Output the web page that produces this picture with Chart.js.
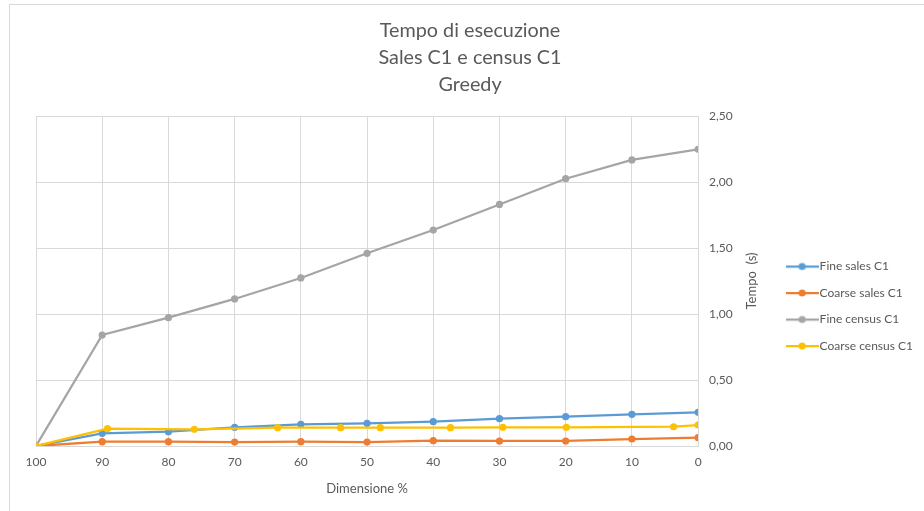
<!DOCTYPE html>
<html>
<head>
<meta charset="utf-8">
<script src="https://cdn.jsdelivr.net/npm/chart.js@4/dist/chart.umd.min.js"></script>
<style>
  html, body { margin: 0; padding: 0; background: #fff; overflow: hidden; width: 924px; height: 511px; }
  #frame { position: absolute; left: 9px; top: 4px; width: 940px; height: 540px; border: 1px solid #d9d9d9; box-sizing: border-box; }
  #c { position: absolute; left: 0; top: 0; }
</style>
</head>
<body>
<div id="frame"></div>
<canvas id="c" width="924" height="511"></canvas>
<script>
// Dimensione % (axis runs from 100 down to 0)
const dimensionTicks = [100, 90, 80, 70, 60, 50, 40, 30, 20, 10, 0];

// Tempo (s) per series
const fineSales    = [0, 0.096, 0.108, 0.142, 0.164, 0.172, 0.184, 0.207, 0.222, 0.240, 0.255];
const coarseSales  = [0, 0.033, 0.033, 0.030, 0.033, 0.030, 0.040, 0.038, 0.038, 0.053, 0.063];
const fineCensus   = [0, 0.841, 0.972, 1.114, 1.273, 1.460, 1.636, 1.830, 2.025, 2.167, 2.248];

// Coarse census was sampled at its own dimensions
const coarseCensusX = [100, 89.2, 76.1, 63.5, 54.0, 48.0, 37.4, 29.5, 19.9, 3.7, 0];
const coarseCensusY = [0, 0.131, 0.126, 0.139, 0.139, 0.139, 0.139, 0.142, 0.142, 0.146, 0.159];

const yTicks = [0, 0.5, 1, 1.5, 2, 2.5];

const seriesNames = ['Fine sales C1', 'Coarse sales C1', 'Fine census C1', 'Coarse census C1'];
const seriesColors = ['#5B9BD5', '#ED7D31', '#A5A5A5', '#FFC000'];

const TEXT = '#595959';
Chart.defaults.font.family = 'Lato, "Liberation Sans", sans-serif';
Chart.defaults.color = TEXT;

function pairs(xs, ys) { return xs.map((x, i) => ({ x: x, y: ys[i] })); }

// Legend marker: short line with a dot in the middle
function legendMarker(color) {
  const c = document.createElement('canvas');
  c.width = 33; c.height = 10;
  const g = c.getContext('2d');
  g.strokeStyle = color; g.lineWidth = 2.25;
  g.beginPath(); g.moveTo(0, 5); g.lineTo(33, 5); g.stroke();
  g.fillStyle = color;
  g.beginPath(); g.arc(16.5, 5, 3.6, 0, Math.PI * 2); g.fill();
  return c;
}

function makeDataset(i, data, order) {
  return {
    label: seriesNames[i],
    data: data,
    borderColor: seriesColors[i],
    backgroundColor: seriesColors[i],
    pointBackgroundColor: seriesColors[i],
    pointBorderColor: seriesColors[i],
    pointRadius: 3.6,
    pointBorderWidth: 0,
    borderWidth: 2.25,
    tension: 0,
    fill: false,
    order: order,
    pointStyle: 'circle',
    legendMarker: legendMarker(seriesColors[i])
  };
}

// Vertical axis title, rotated to read bottom-to-top
const axisTitlePlugin = {
  id: 'axisTitle',
  afterDraw(chart) {
    const ctx = chart.ctx;
    const area = chart.chartArea;
    ctx.save();
    ctx.translate(752, (area.top + area.bottom) / 2);
    ctx.rotate(-Math.PI / 2);
    ctx.fillStyle = TEXT;
    ctx.font = '13px ' + Chart.defaults.font.family;
    ctx.textAlign = 'center';
    ctx.textBaseline = 'middle';
    ctx.fillText('Tempo  (s)', 0, 0);
    ctx.restore();
  }
};

new Chart(document.getElementById('c'), {
  type: 'line',
  data: {
    datasets: [
      makeDataset(0, pairs(dimensionTicks, fineSales), 3),
      makeDataset(1, pairs(dimensionTicks, coarseSales), 2),
      makeDataset(2, pairs(dimensionTicks, fineCensus), 1),
      makeDataset(3, pairs(coarseCensusX, coarseCensusY), 0)
    ]
  },
  plugins: [axisTitlePlugin],
  options: {
    responsive: false,
    animation: false,
    devicePixelRatio: 1,
    layout: { padding: { left: 17, right: 1, top: 3, bottom: 0 } },
    plugins: {
      tooltip: { enabled: false },
      title: {
        display: true,
        text: ['Tempo di esecuzione', 'Sales C1 e census C1', 'Greedy'],
        color: TEXT,
        font: { size: 19.8, weight: 'normal', lineHeight: 27 / 19.8 },
        padding: { top: 14, bottom: 18 }
      },
      legend: {
        position: 'right',
        align: 'start',
        title: {
          display: true,
          text: '',
          font: { size: 12, lineHeight: 1 },
          padding: { top: 231, bottom: 0 }
        },
        labels: {
          usePointStyle: true,
          pointStyleWidth: 23,
          padding: 14.5,
          color: TEXT,
          font: { size: 12 },
          sort: (a, b) => a.datasetIndex - b.datasetIndex,
          generateLabels(chart) {
            return chart.data.datasets.map((ds, i) => ({
              text: ds.label,
              datasetIndex: i,
              pointStyle: ds.legendMarker,
              fillStyle: ds.borderColor,
              strokeStyle: ds.borderColor,
              lineWidth: 0,
              hidden: false,
              fontColor: TEXT
            }));
          }
        }
      }
    },
    scales: {
      x: {
        type: 'linear',
        reverse: true,
        min: 0,
        max: 100,
        afterBuildTicks(scale) { scale.ticks = dimensionTicks.map(v => ({ value: v })); },
        afterFit(scale) { scale.height = 65; },
        ticks: {
          color: TEXT,
          font: { size: 12 },
          padding: 9,
          maxRotation: 0,
          callback: v => String(v)
        },
        grid: { color: '#d9d9d9', lineWidth: 1, drawTicks: false },
        border: { display: false },
        title: {
          display: true,
          text: 'Dimensione %',
          color: TEXT,
          font: { size: 13 },
          padding: { top: 0, bottom: 14 }
        }
      },
      y: {
        position: 'right',
        min: 0,
        max: 2.5,
        afterBuildTicks(scale) { scale.ticks = yTicks.map(v => ({ value: v })); },
        afterFit(scale) { scale.width = 78; },
        ticks: {
          color: TEXT,
          font: { size: 12 },
          padding: 11,
          callback: v => v.toFixed(2).replace('.', ',')
        },
        grid: { color: '#d9d9d9', lineWidth: 1, drawTicks: false },
        border: { display: true, color: '#d9d9d9' }
      },
      // empty gutter on the left side of the plot
      gutter: {
        type: 'linear',
        position: 'left',
        display: true,
        min: 0,
        max: 1,
        afterFit(scale) { scale.width = 19; },
        ticks: { display: false },
        grid: { display: false, drawTicks: false },
        border: { display: false }
      }
    }
  }
});
</script>
</body>
</html>
